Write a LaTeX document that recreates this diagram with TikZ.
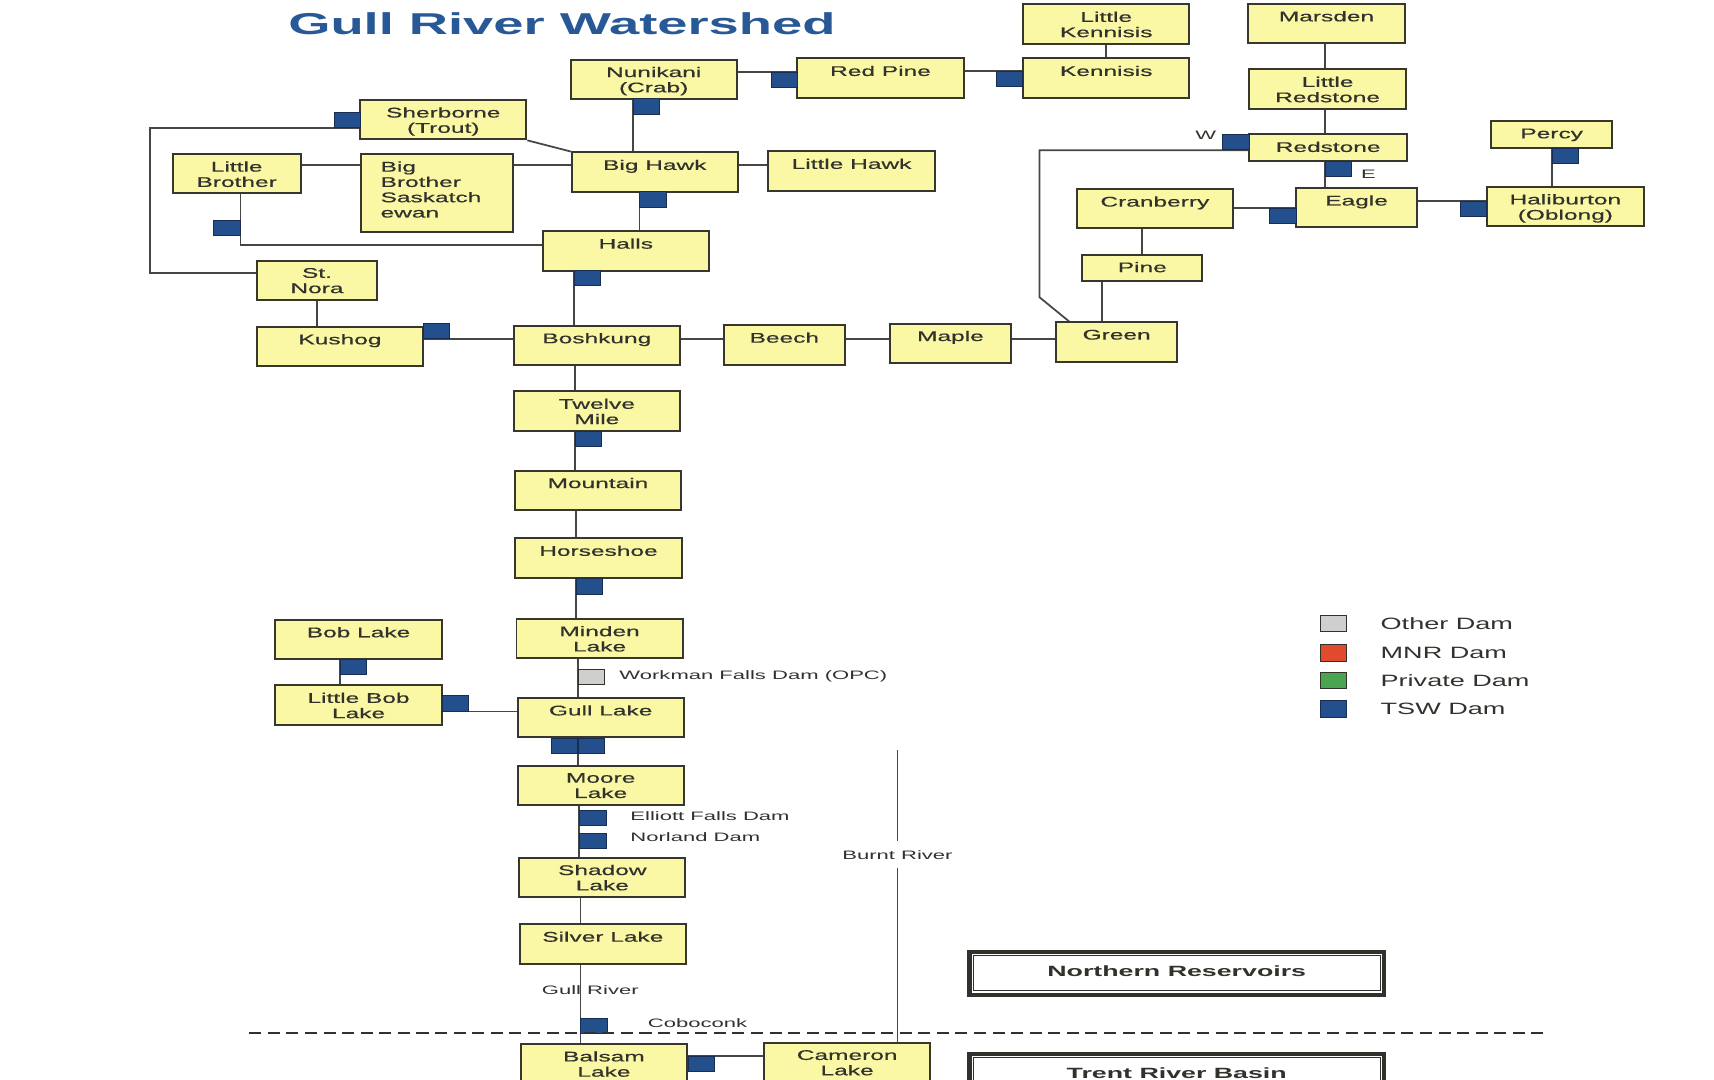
\documentclass[tikz,border=0pt]{standalone}
\usepackage{fontspec}
\setmainfont{Liberation Sans}
\newfontfamily\lakefont[FakeBold=0.4]{Liberation Sans}
\usetikzlibrary{positioning}
\pgfdeclarelayer{background}
\pgfsetlayers{background,main}

\definecolor{lakefill}{RGB}{250,247,165}
\definecolor{lakeedge}{RGB}{55,55,45}
\definecolor{linegray}{RGB}{70,70,70}
\definecolor{damblue}{RGB}{35,80,140}
\definecolor{damedge}{RGB}{25,45,80}
\definecolor{damgray}{RGB}{205,208,205}
\definecolor{damred}{RGB}{225,75,45}
\definecolor{damgreen}{RGB}{75,165,80}
\definecolor{inkgray}{RGB}{50,50,45}
\definecolor{titleblue}{RGB}{40,88,150}

\tikzset{
  lake/.style={draw=lakeedge, fill=lakefill, line width=0.9pt, minimum width=76pt, minimum height=18pt, inner sep=0pt},
  lk/.style={anchor=north, inner sep=0pt, yshift=-3.6pt, xscale=1.75, align=center, text=inkgray, font=\lakefont\fontsize{6.4}{7}\selectfont},
  dam/.style={draw=damedge, fill=damblue, line width=0.4pt, minimum width=12pt, minimum height=7pt, inner sep=0pt},
  otherdam/.style={dam, draw=inkgray, fill=damgray},
  river/.style={draw=linegray, line width=0.8pt},
  note/.style={inner sep=0pt, xscale=1.8, text=inkgray, font=\fontsize{5.6}{6.5}\selectfont},
  keytext/.style={inner sep=0pt, xscale=1.65, text=inkgray, font=\fontsize{7.5}{9}\selectfont},
  basin/.style={draw=inkgray, line width=2pt, fill=white, minimum width=189.5pt, minimum height=19.5pt, inner sep=0pt},
  btxt/.style={anchor=north, inner sep=0pt, yshift=-7pt, xscale=1.8, text=inkgray, font=\bfseries\fontsize{6.8}{8}\selectfont},
  divide/.style={draw=inkgray, line width=1.1pt, dash pattern=on 5.5pt off 3pt}
}

\begin{document}
\begin{tikzpicture}[x=0.5pt,y=-0.5pt]
\useasboundingbox (0,0) rectangle (1568,988);

\node[inner sep=0pt, xscale=1.8, text=titleblue, font=\bfseries\fontsize{13.8}{16}\selectfont] (title) at (514,22) {Gull River Watershed};

% lakes
\node[lake, label={[lk]north:Little\\Kennisis}] (LKennisis) at (1012,22) {};
\node[lake, minimum width=71.5pt, label={[lk]north:Marsden}] (Marsden) at (1213.5,21.5) {};
\node[lake, label={[lk]north:Nunikani\\(Crab)}] (Nunikani) at (598,72.5) {};
\node[lake, label={[lk]north:Red Pine}] (RedPine) at (805.5,71.5) {};
\node[lake, label={[lk]north:Kennisis}] (Kennisis) at (1012,71.5) {};
\node[lake, minimum width=71.5pt, label={[lk]north:Little\\Redstone}] (LRedstone) at (1214.5,81.5) {};
\node[lake, label={[lk]north:Sherborne\\(Trout)}] (Sherborne) at (405.5,109.5) {};
\node[lake, minimum width=72pt, minimum height=12pt, label={[lk]north:Redstone}] (Redstone) at (1215,135) {};
\node[lake, minimum width=55.5pt, minimum height=12pt, label={[lk]north:Percy}] (Percy) at (1419.5,123) {};
\node[lake, minimum width=58.5pt, label={[lk]north:Little\\Brother}] (LBrother) at (216.5,159) {};
\node[lake, minimum width=69.5pt, minimum height=35.5pt, label={[lk, align=left, xshift=-1.5pt]north:Big\\Brother\\Saskatch\\ewan}] (BBrother) at (399.5,176.5) {};
\node[lake, label={[lk]north:Big Hawk}] (BigHawk) at (599,157.5) {};
\node[lake, label={[lk]north:Little Hawk}] (LHawk) at (779,156.5) {};
\node[lake, minimum width=71.5pt, label={[lk]north:Cranberry}] (Cranberry) at (1056.5,191) {};
\node[lake, minimum width=55pt, label={[lk]north:Eagle}] (Eagle) at (1241,190) {};
\node[lake, minimum width=72pt, label={[lk]north:Haliburton\\(Oblong)}] (Haliburton) at (1432,189) {};
\node[lake, label={[lk]north:Halls}] (Halls) at (572.5,229.5) {};
\node[lake, minimum width=55pt, minimum height=12pt, label={[lk]north:Pine}] (Pine) at (1045,245) {};
\node[lake, minimum width=55pt, label={[lk]north:St.\\Nora}] (StNora) at (290,256.5) {};
\node[lake, minimum width=55.5pt, label={[lk]north:Green}] (Green) at (1021.5,313) {};
\node[lake, label={[lk]north:Kushog}] (Kushog) at (311,317) {};
\node[lake, label={[lk]north:Boshkung}] (Boshkung) at (546,316) {};
\node[lake, minimum width=55.5pt, label={[lk]north:Beech}] (Beech) at (717.5,315.5) {};
\node[lake, minimum width=55.5pt, label={[lk]north:Maple}] (Maple) at (869.5,314) {};
\node[lake, label={[lk]north:Twelve\\Mile}] (TwelveMile) at (546,376) {};
\node[lake, label={[lk]north:Mountain}] (Mountain) at (547,448.5) {};
\node[lake, label={[lk]north:Horseshoe}] (Horseshoe) at (547.5,510.5) {};
\node[lake, label={[lk]north:Bob Lake}] (BobLake) at (328,585) {};
\node[lake, label={[lk]north:Minden\\Lake}] (Minden) at (548.5,584) {};
\node[lake, label={[lk]north:Little Bob\\Lake}] (LBobLake) at (328,645) {};
\node[lake, label={[lk]north:Gull Lake}] (GullLake) at (549.5,656.5) {};
\node[lake, label={[lk]north:Moore\\Lake}] (Moore) at (549.5,718.5) {};
\node[lake, label={[lk]north:Shadow\\Lake}] (Shadow) at (551,802.5) {};
\node[lake, label={[lk]north:Silver Lake}] (Silver) at (551.5,863.5) {};
\node[lake, label={[lk]north:Balsam\\Lake}] (Balsam) at (552.5,973) {};
\node[lake, label={[lk]north:Cameron\\Lake}] (Cameron) at (775,972) {};

\node[basin, label={[btxt]north:Northern Reservoirs}] (NorthRes) at (1076.5,890.5) {};
\node[basin, label={[btxt]north:Trent River Basin}] (TrentBasin) at (1076.5,983.5) {};
\draw[line width=0.5pt, inkgray] ([shift={(2.75pt,-2.75pt)}]NorthRes.north west) rectangle ([shift={(-2.75pt,2.75pt)}]NorthRes.south east);
\draw[line width=0.5pt, inkgray] ([shift={(2.75pt,-2.75pt)}]TrentBasin.north west) rectangle ([shift={(-2.75pt,2.75pt)}]TrentBasin.south east);

% dams
\node[dam, anchor=north east] (dRedPine) at (730,66) {};
\node[dam, anchor=north east] (dKennisis) at (936,65) {};
\node[dam, anchor=north west] (dNunikani) at (579,90) {};
\node[dam, anchor=south east] (dSherborne) at (330,117) {};
\node[dam, anchor=north west] (dBigHawk) at (585,175) {};
\node[dam, anchor=north east] (dLBrother) at (220,201) {};
\node[dam, anchor=north west] (dHalls) at (525,247) {};
\node[dam, anchor=south west] (dKushog) at (387,310) {};
\node[dam, anchor=north west] (dTwelveMile) at (526,394) {};
\node[dam, anchor=north west] (dHorseshoe) at (527,529) {};
\node[otherdam, anchor=north west] (dWorkman) at (529,612) {};
\node[dam, anchor=north east] (dGullW) at (529,675) {};
\node[dam, anchor=north west] (dGullE) at (529,675) {};
\node[dam, anchor=north west] (dElliott) at (530,741) {};
\node[dam, anchor=north west] (dNorland) at (530,762) {};
\node[dam, anchor=north west] (dCoboconk) at (531,931) {};
\node[dam, anchor=north west] (dBalsam) at (629,966) {};
\node[dam, anchor=north west] (dBobLake) at (311,603) {};
\node[dam, anchor=south west] (dLBobLake) at (404,651) {};
\node[dam, anchor=south east] (dW) at (1143,137.5) {};
\node[dam, anchor=north west] (dE) at (1212,147) {};
\node[dam, anchor=north east] (dCranberry) at (1186,190) {};
\node[dam, anchor=north east] (dEagle) at (1360,184) {};
\node[dam, anchor=north west] (dPercy) at (1420,135) {};

% dam and river names
\node[note, anchor=west] (nWorkman) at (566,619) {Workman Falls Dam (OPC)};
\node[note, anchor=west] (nElliott) at (576,747) {Elliott Falls Dam};
\node[note, anchor=west] (nNorland) at (576,766) {Norland Dam};
\node[note] (gull) at (540,906) {Gull River};
\node[note, anchor=west] (nCoboconk) at (592,936) {Coboconk};
\node[note, inner ysep=4pt] (burnt) at (821,782) {Burnt River};
\node[note] (nW) at (1103,124) {W};
\node[note] (nE) at (1252,159) {E};

% legend
\node[otherdam, minimum height=7.5pt] (kOther) at (1220,570.5) {};
\node[dam, draw=inkgray, fill=damred, minimum height=7.5pt] (kMNR) at (1220,597.5) {};
\node[dam, draw=inkgray, fill=damgreen, minimum height=7.5pt] (kPrivate) at (1220,622.5) {};
\node[dam, minimum height=7.5pt] (kTSW) at (1220,648.5) {};
\node[keytext, right=15pt of kOther] {Other Dam};
\node[keytext, right=15pt of kMNR] {MNR Dam};
\node[keytext, right=15pt of kPrivate] {Private Dam};
\node[keytext, right=15pt of kTSW] {TSW Dam};

\coordinate (hawkline) at (0,151);
\coordinate (bendA) at (137,117);
\coordinate (bendB) at (137,250);
\coordinate (bendC) at (220,224);
\coordinate (bendD) at (951,137.5);
\coordinate (bendE) at (951,272);
\coordinate (bendF) at (1008,0);
\coordinate (burntTop) at (821,686);
\coordinate (dashL) at (228,945);
\coordinate (dashR) at (1416,945);

\begin{pgfonlayer}{background}
\fill[white] (0,0) rectangle (1568,988);
\draw[river] (LKennisis) -- (Kennisis);
\draw[river] (Marsden.south -| dE.west) -- (LRedstone.north -| dE.west);
\draw[river] (LRedstone.south -| dE.west) -- (Redstone.north -| dE.west);
\draw[river] (Redstone.south -| dE.west) -- (Eagle.north -| dE.west);
\draw[river] (Nunikani.east |- dRedPine.north) -- (RedPine.west |- dRedPine.north);
\draw[river] (RedPine.east |- dKennisis.north) -- (Kennisis.west |- dKennisis.north);
\draw[river] (Nunikani.south -| dNunikani.west) -- (BigHawk.north -| dNunikani.west);
\draw[river] (Sherborne.south east) -- (BigHawk.north west);
\draw[river] (dSherborne.south east) -- (bendA) -- (bendB) -- (bendB -| StNora.west);
\draw[river] (LBrother.east |- hawkline) -- (BBrother.west |- hawkline);
\draw[river] (BBrother.east |- hawkline) -- (BigHawk.west |- hawkline);
\draw[river] (BigHawk.east |- hawkline) -- (LHawk.west |- hawkline);
\draw[river] (BigHawk.south -| dBigHawk.west) -- (Halls.north -| dBigHawk.west);
\draw[river] (LBrother.south -| dLBrother.east) -- (bendC) -- (bendC -| Halls.west);
\draw[river] (Halls.south -| dHalls.west) -- (Boshkung.north -| dHalls.west);
\draw[river] (StNora.south) -- (StNora.south |- Kushog.north);
\draw[river] (Kushog.east |- dKushog.south) -- (Boshkung.west |- dKushog.south);
\draw[river] (Boshkung.east |- dKushog.south) -- (Beech.west |- dKushog.south);
\draw[river] (Beech.east |- dKushog.south) -- (Maple.west |- dKushog.south);
\draw[river] (Maple.east |- dKushog.south) -- (Green.west |- dKushog.south);
\draw[river] (dW.south east) -- (bendD) -- (bendE) -- ([xshift=6.5pt]Green.north west);
\draw[river] (Cranberry.east |- dCranberry.north) -- (Eagle.west |- dCranberry.north);
\draw[river] (Cranberry.south -| Pine.north) -- (Pine.north);
\draw[river] (Pine.south -| bendF) -- (Green.north -| bendF);
\draw[river] (Eagle.east |- dEagle.north) -- (Haliburton.west |- dEagle.north);
\draw[river] (Percy.south -| dPercy.west) -- (Haliburton.north -| dPercy.west);
\draw[river] (Boshkung.south -| dTwelveMile.west) -- (TwelveMile.north -| dTwelveMile.west);
\draw[river] (TwelveMile.south -| dTwelveMile.west) -- (Mountain.north -| dTwelveMile.west);
\draw[river] (Mountain.south -| dHorseshoe.west) -- (Horseshoe.north -| dHorseshoe.west);
\draw[river] (Horseshoe.south -| dHorseshoe.west) -- (Minden.north -| dHorseshoe.west);
\draw[river] (Minden.south -| dWorkman.west) -- (GullLake.north -| dWorkman.west);
\draw[river] (GullLake.south -| dGullE.west) -- (Moore.north -| dGullE.west);
\draw[river] (Moore.south -| dElliott.west) -- (Shadow.north -| dElliott.west);
\draw[river] (Shadow.south -| dCoboconk.west) -- (Silver.north -| dCoboconk.west);
\draw[river] (Silver.south -| dCoboconk.west) -- (Balsam.north -| dCoboconk.west);
\draw[river] (BobLake.south -| dBobLake.west) -- (LBobLake.north -| dBobLake.west);
\draw[river] (LBobLake.east |- dLBobLake.south) -- (GullLake.west |- dLBobLake.south);
\draw[river] (Balsam.east |- dBalsam.north) -- (Cameron.west |- dBalsam.north);
\draw[river] (burntTop) -- (burnt.north);
\draw[river] (burnt.south) -- (burnt.south |- Cameron.north);
\end{pgfonlayer}

\draw[divide] (dashL) -- (dashR);
\end{tikzpicture}
\end{document}
